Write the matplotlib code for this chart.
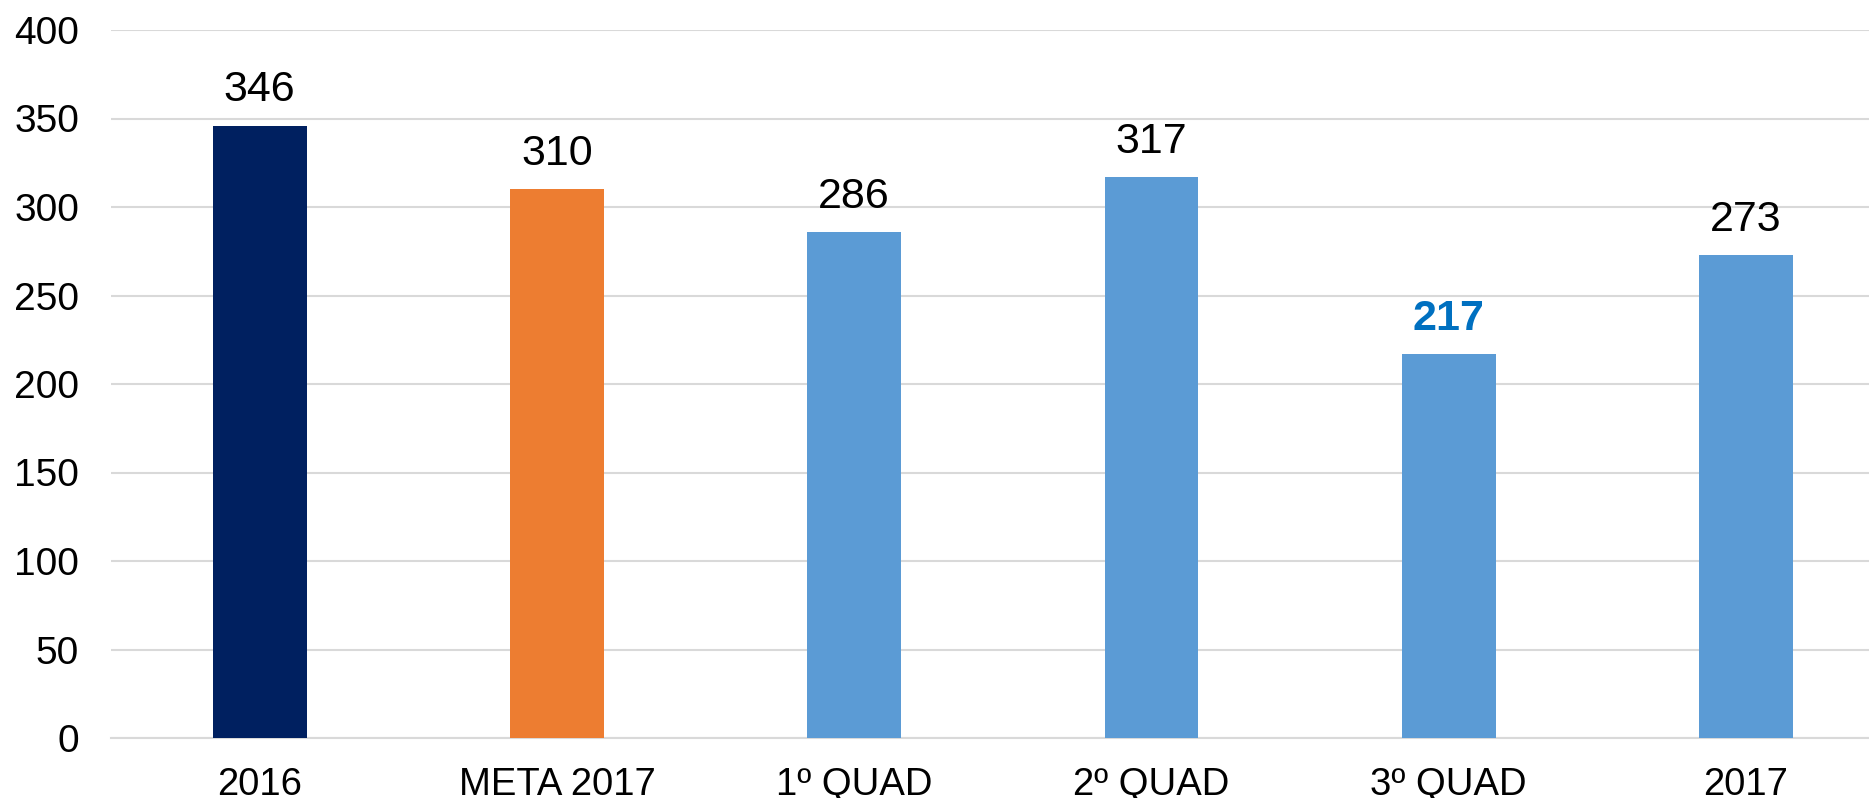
import matplotlib
matplotlib.use('Agg')
import matplotlib.pyplot as plt

categories = ['2016', 'META 2017', '1º QUAD', '2º QUAD', '3º QUAD', '2017']
values = [346, 310, 286, 317, 217, 273]
bar_colors = ['#002060', '#ED7D31', '#5B9BD5', '#5B9BD5', '#5B9BD5', '#5B9BD5']
yticks = [0, 50, 100, 150, 200, 250, 300, 350, 400]

plt.rcParams['font.family'] = ['Liberation Sans', 'DejaVu Sans']

fig = plt.figure(figsize=(18.69, 7.98), dpi=100)
# axes box in figure fractions (left 111px, bottom 738px, top 30px)
ax = fig.add_axes([111 / 1869, (798 - 738) / 798, 1 - 111 / 1869, (738 - 30) / 798])

x = range(len(categories))
ax.bar(x, values, width=0.316, color=bar_colors, zorder=3)

# data labels, the 3rd quarter one is highlighted
for i, v in enumerate(values):
    if i == 4:
        ax.annotate(str(v), (i, v), xytext=(0, 11), textcoords='offset points',
                    ha='center', va='bottom', fontsize=31, color='#0070C0', fontweight='bold')
    else:
        ax.annotate(str(v), (i, v), xytext=(0, 11), textcoords='offset points',
                    ha='center', va='bottom', fontsize=31, color='black')

ax.set_ylim(0, 400)
ax.set_xlim(-0.5, 5 + (1869 - 1746) / 297.4)
ax.set_yticks(yticks)
ax.set_xticks(list(x))
ax.set_xticklabels(categories)
ax.tick_params(axis='y', length=0, pad=23, labelsize=28)
ax.tick_params(axis='x', length=0, pad=21, labelsize=27.5)

ax.grid(axis='y', color='#D9D9D9', linewidth=1.5, zorder=0)
for s in ['top', 'right', 'left']:
    ax.spines[s].set_visible(False)
ax.spines['bottom'].set_color('#D9D9D9')
ax.spines['bottom'].set_linewidth(1.5)

fig.savefig('out.png', dpi=100)
